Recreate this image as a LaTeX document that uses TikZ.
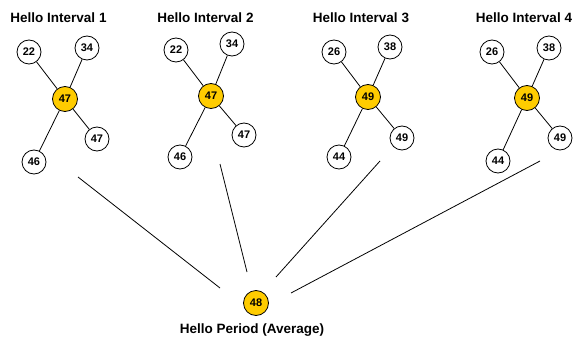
\documentclass[tikz,border=0pt]{standalone}
\usepackage{fontspec}
\setmainfont{Liberation Sans}
\begin{document}
\begin{tikzpicture}[x=1pt,y=-1pt,
  every node/.style={font=\bfseries},
  peer/.style={circle,draw=black,line width=0.8pt,fill=white,minimum size=24pt,inner sep=0pt,font=\fontsize{11}{12}\bfseries\selectfont},
  hub/.style={peer,fill=gold,minimum size=25pt},
  title/.style={font=\fontsize{13.5}{16}\bfseries\selectfont,inner sep=0pt},
  link/.style={line width=0.8pt,black}]
\definecolor{gold}{RGB}{255,204,0}
\useasboundingbox (0,0) rectangle (573,337);

% interval 1
\node[title] (t1) at (58.5,18) {Hello Interval 1};
\node[hub] (c1) at (65,99) {47};
\node[peer] (a1) at (29,52) {22};
\node[peer] (b1) at (87,48) {34};
\node[peer] (d1) at (97,139) {47};
\node[peer] (e1) at (34,162) {46};
% interval 2
\node[title] (t2) at (205.5,18) {Hello Interval 2};
\node[hub] (c2) at (211,96) {47};
\node[peer] (a2) at (176,50) {22};
\node[peer] (b2) at (232,44) {34};
\node[peer] (d2) at (244,135) {47};
\node[peer] (e2) at (180,157) {46};
% interval 3
\node[title] (t3) at (361,18) {Hello Interval 3};
\node[hub] (c3) at (368,97) {49};
\node[peer] (a3) at (334,52) {26};
\node[peer] (b3) at (390,47) {38};
\node[peer] (d3) at (402,138) {49};
\node[peer] (e3) at (339,157) {44};
% interval 4
\node[title] (t4) at (524,18) {Hello Interval 4};
\node[hub] (c4) at (527,98) {49};
\node[peer] (a4) at (492,52) {26};
\node[peer] (b4) at (549,48) {38};
\node[peer] (d4) at (560,138) {49};
\node[peer] (e4) at (498,161) {44};

\foreach \i in {1,2,3,4}{
  \foreach \p in {a,b,d,e}{
    \draw[link] (c\i) -- (\p\i);
  }
}

% averaged period
\node[hub] (avg) at (256,303) {48};
\node[title] (tp) at (252,330) {Hello Period (Average)};

\coordinate (s1) at (78,177);   \coordinate (f1) at (220,288);
\coordinate (s2) at (220,164);  \coordinate (f2) at (247,272);
\coordinate (s3) at (380,161);  \coordinate (f3) at (276,277);
\coordinate (s4) at (540,161);  \coordinate (f4) at (291,293);
\foreach \i in {1,2,3,4}{
  \draw[link] (s\i) -- (f\i);
}
\end{tikzpicture}
\end{document}
